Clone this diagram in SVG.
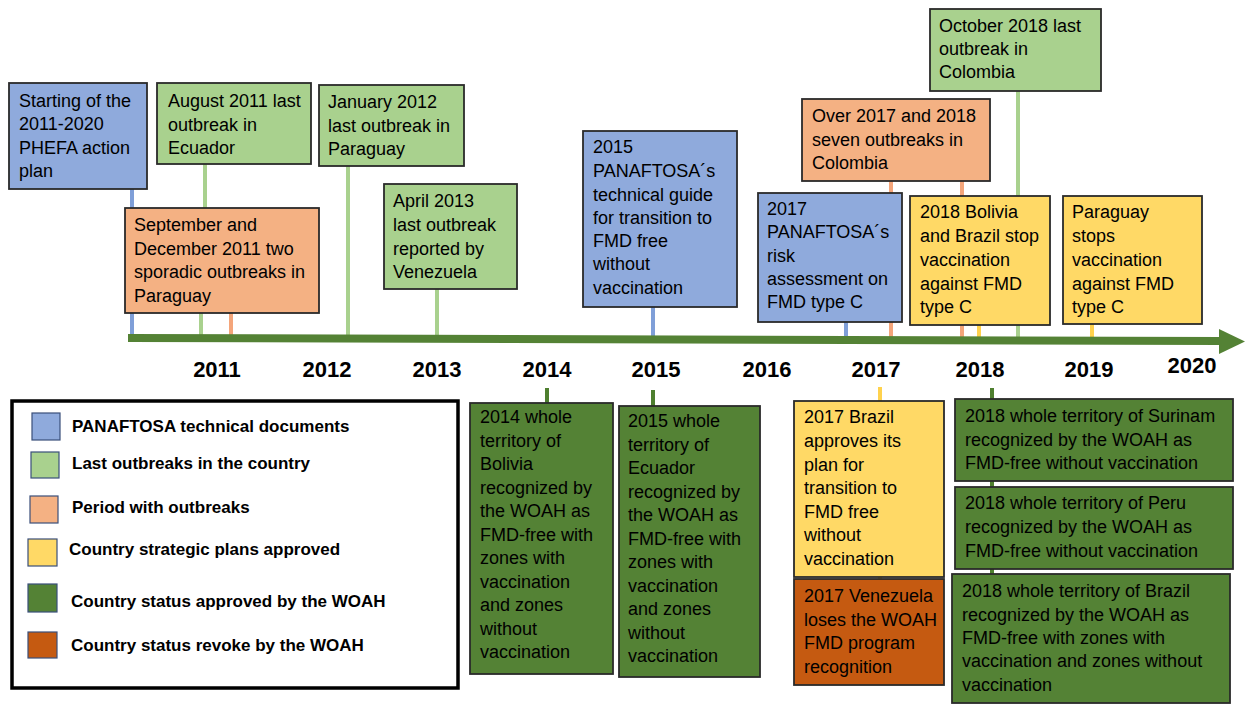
<svg xmlns="http://www.w3.org/2000/svg" width="1248" height="709" viewBox="0 0 1248 709">
<style>
text{font-family:"Liberation Sans",Arial,sans-serif;fill:#000}
.t{font-size:18px}
.yr{font-size:22px;font-weight:bold;text-anchor:middle}
.lg{font-size:17px;font-weight:bold}
.box{stroke:#2a2a2a;stroke-width:1.8}
.blue{fill:#8FAADC}
.lgreen{fill:#A9D18E}
.orange{fill:#F4B183}
.yellow{fill:#FFD966}
.dgreen{fill:#548235}
.dorange{fill:#C55A11}
.c{stroke-width:4;fill:none}
.cb{stroke:#7F9FD8}
.cg{stroke:#A9D18E}
.co{stroke:#F4A57A}
.cy{stroke:#FFD24D}
.cd{stroke:#4E7F2F}
.sw{stroke:#3A4F7A;stroke-width:1.2}
</style>
<rect width="1248" height="709" fill="#fff"/>
<g id="connectors">
<path class="c cb" d="M132 189V337M653 307V337M846 322V339"/>
<path class="c cg" d="M205 164V210M201 311V337M348 166V337M437 289V338M1018 91V340"/>
<path class="c co" d="M231 313V337M891 181V339M962 181V340"/>
<path class="c cy" d="M979 325V340M1092 324V341M880 387V580"/>
<path class="c cd" d="M547 388V404M653 390V407M992 388V575"/>
</g>
<g id="timeline">
<path d="M128 338L1222 341" stroke="#548235" stroke-width="8" fill="none"/>
<polygon points="1219,329 1245,341.5 1219,354" fill="#548235"/>
<text class="yr" x="217" y="377">2011</text>
<text class="yr" x="327" y="377">2012</text>
<text class="yr" x="437" y="377">2013</text>
<text class="yr" x="547" y="377">2014</text>
<text class="yr" x="656" y="377">2015</text>
<text class="yr" x="767" y="377">2016</text>
<text class="yr" x="876" y="377">2017</text>
<text class="yr" x="980" y="377">2018</text>
<text class="yr" x="1089" y="377">2019</text>
<text class="yr" x="1192" y="373">2020</text>
</g>
<g id="n-phefa">
<rect class="box blue" x="9" y="83" width="138" height="106"/>
<text class="t"><tspan x="19" y="107">Starting of the</tspan><tspan x="19" y="130">2011-2020</tspan><tspan x="19" y="154">PHEFA action</tspan><tspan x="19" y="177">plan</tspan></text>
</g>
<g id="n-ecuador2011">
<rect class="box lgreen" x="157" y="83" width="154" height="81"/>
<text class="t"><tspan x="168" y="107">August 2011 last</tspan><tspan x="168" y="131">outbreak in</tspan><tspan x="168" y="154">Ecuador</tspan></text>
</g>
<g id="n-paraguay2012">
<rect class="box lgreen" x="319" y="85" width="145" height="81"/>
<text class="t"><tspan x="328" y="108">January 2012</tspan><tspan x="328" y="132">last outbreak in</tspan><tspan x="328" y="155">Paraguay</tspan></text>
</g>
<g id="n-paraguay2011">
<rect class="box orange" x="125" y="208" width="194" height="105"/>
<text class="t"><tspan x="134" y="231">September and</tspan><tspan x="134" y="255">December 2011 two</tspan><tspan x="134" y="278">sporadic outbreaks in</tspan><tspan x="134" y="302">Paraguay</tspan></text>
</g>
<g id="n-venezuela2013">
<rect class="box lgreen" x="384" y="184" width="133" height="105"/>
<text class="t"><tspan x="393" y="207">April 2013</tspan><tspan x="393" y="231">last outbreak</tspan><tspan x="393" y="255">reported by</tspan><tspan x="393" y="278">Venezuela</tspan></text>
</g>
<g id="n-guide2015">
<rect class="box blue" x="583" y="131" width="154" height="176"/>
<text class="t"><tspan x="593" y="153">2015</tspan><tspan x="593" y="177">PANAFTOSA´s</tspan><tspan x="593" y="201">technical guide</tspan><tspan x="593" y="224">for transition to</tspan><tspan x="593" y="247">FMD free</tspan><tspan x="593" y="270">without</tspan><tspan x="593" y="294">vaccination</tspan></text>
</g>
<g id="n-risk2017">
<rect class="box blue" x="758" y="193" width="144" height="129"/>
<text class="t"><tspan x="767" y="215">2017</tspan><tspan x="767" y="238">PANAFTOSA´s</tspan><tspan x="767" y="262">risk</tspan><tspan x="767" y="285">assessment on</tspan><tspan x="767" y="308">FMD type C</tspan></text>
</g>
<g id="n-colombia-outbreaks">
<rect class="box orange" x="802" y="99" width="188" height="82"/>
<text class="t"><tspan x="812" y="122">Over 2017 and 2018</tspan><tspan x="812" y="146">seven outbreaks in</tspan><tspan x="812" y="169">Colombia</tspan></text>
</g>
<g id="n-colombia2018">
<rect class="box lgreen" x="930" y="9" width="171" height="82"/>
<text class="t"><tspan x="939" y="32">October 2018 last</tspan><tspan x="939" y="55">outbreak in</tspan><tspan x="939" y="78">Colombia</tspan></text>
</g>
<g id="n-bolivia-brazil-stop">
<rect class="box yellow" x="910" y="196" width="140" height="129"/>
<text class="t"><tspan x="920" y="218">2018 Bolivia</tspan><tspan x="920" y="242">and Brazil stop</tspan><tspan x="920" y="266">vaccination</tspan><tspan x="920" y="290">against FMD</tspan><tspan x="920" y="313">type C</tspan></text>
</g>
<g id="n-paraguay-stop">
<rect class="box yellow" x="1063" y="196" width="139" height="128"/>
<text class="t"><tspan x="1072" y="218">Paraguay</tspan><tspan x="1072" y="242">stops</tspan><tspan x="1072" y="266">vaccination</tspan><tspan x="1072" y="290">against FMD</tspan><tspan x="1072" y="313">type C</tspan></text>
</g>
<g id="n-bolivia2014">
<rect class="box dgreen" x="470" y="403" width="143" height="271"/>
<text class="t"><tspan x="480" y="423">2014 whole</tspan><tspan x="480" y="447">territory of</tspan><tspan x="480" y="470">Bolivia</tspan><tspan x="480" y="494">recognized by</tspan><tspan x="480" y="517">the WOAH as</tspan><tspan x="480" y="541">FMD-free with</tspan><tspan x="480" y="564">zones with</tspan><tspan x="480" y="588">vaccination</tspan><tspan x="480" y="611">and zones</tspan><tspan x="480" y="635">without</tspan><tspan x="480" y="658">vaccination</tspan></text>
</g>
<g id="n-ecuador2015">
<rect class="box dgreen" x="619" y="406" width="141" height="271"/>
<text class="t"><tspan x="628" y="427">2015 whole</tspan><tspan x="628" y="451">territory of</tspan><tspan x="628" y="474">Ecuador</tspan><tspan x="628" y="498">recognized by</tspan><tspan x="628" y="521">the WOAH as</tspan><tspan x="628" y="545">FMD-free with</tspan><tspan x="628" y="568">zones with</tspan><tspan x="628" y="592">vaccination</tspan><tspan x="628" y="615">and zones</tspan><tspan x="628" y="639">without</tspan><tspan x="628" y="662">vaccination</tspan></text>
</g>
<g id="n-brazil-plan2017">
<rect class="box yellow" x="794" y="401" width="150" height="176"/>
<text class="t"><tspan x="804" y="423">2017 Brazil</tspan><tspan x="804" y="447">approves its</tspan><tspan x="804" y="471">plan for</tspan><tspan x="804" y="494">transition to</tspan><tspan x="804" y="518">FMD free</tspan><tspan x="804" y="541">without</tspan><tspan x="804" y="565">vaccination</tspan></text>
</g>
<g id="n-venezuela2017">
<rect class="box dorange" x="794" y="579" width="150" height="106"/>
<text class="t"><tspan x="804" y="602">2017 Venezuela</tspan><tspan x="804" y="626">loses the WOAH</tspan><tspan x="804" y="649">FMD program</tspan><tspan x="804" y="673">recognition</tspan></text>
</g>
<g id="n-surinam2018">
<rect class="box dgreen" x="955" y="399" width="278" height="82"/>
<text class="t"><tspan x="965" y="422">2018 whole territory of Surinam</tspan><tspan x="965" y="446">recognized by the WOAH as</tspan><tspan x="965" y="469">FMD-free without vaccination</tspan></text>
</g>
<g id="n-peru2018">
<rect class="box dgreen" x="955" y="487" width="278" height="82"/>
<text class="t"><tspan x="965" y="509">2018 whole territory of Peru</tspan><tspan x="965" y="533">recognized by the WOAH as</tspan><tspan x="965" y="557">FMD-free without vaccination</tspan></text>
</g>
<g id="n-brazil2018">
<rect class="box dgreen" x="952" y="574" width="278" height="129"/>
<text class="t"><tspan x="962" y="597">2018 whole territory of Brazil</tspan><tspan x="962" y="621">recognized by the WOAH as</tspan><tspan x="962" y="644">FMD-free with zones with</tspan><tspan x="962" y="667">vaccination and zones without</tspan><tspan x="962" y="691">vaccination</tspan></text>
</g>
<g id="legend">
<rect x="12" y="401" width="446" height="287" fill="#fff" stroke="#000" stroke-width="3.5"/>
<rect class="sw blue" x="32" y="413" width="28" height="27"/>
<rect class="sw lgreen" x="31" y="452" width="28" height="26"/>
<rect class="sw orange" x="30" y="496" width="28" height="27"/>
<rect class="sw yellow" x="28" y="539" width="29" height="27"/>
<rect class="sw dgreen" x="28" y="584" width="29" height="28"/>
<rect class="sw dorange" x="28" y="632" width="29" height="26"/>
<text class="lg" x="72" y="432">PANAFTOSA technical documents</text>
<text class="lg" x="72" y="469">Last outbreaks in the country</text>
<text class="lg" x="72" y="513">Period with outbreaks</text>
<text class="lg" x="69" y="555">Country strategic plans approved</text>
<text class="lg" x="71" y="607">Country status approved by the WOAH</text>
<text class="lg" x="71" y="651">Country status revoke by the WOAH</text>
</g>
</svg>
